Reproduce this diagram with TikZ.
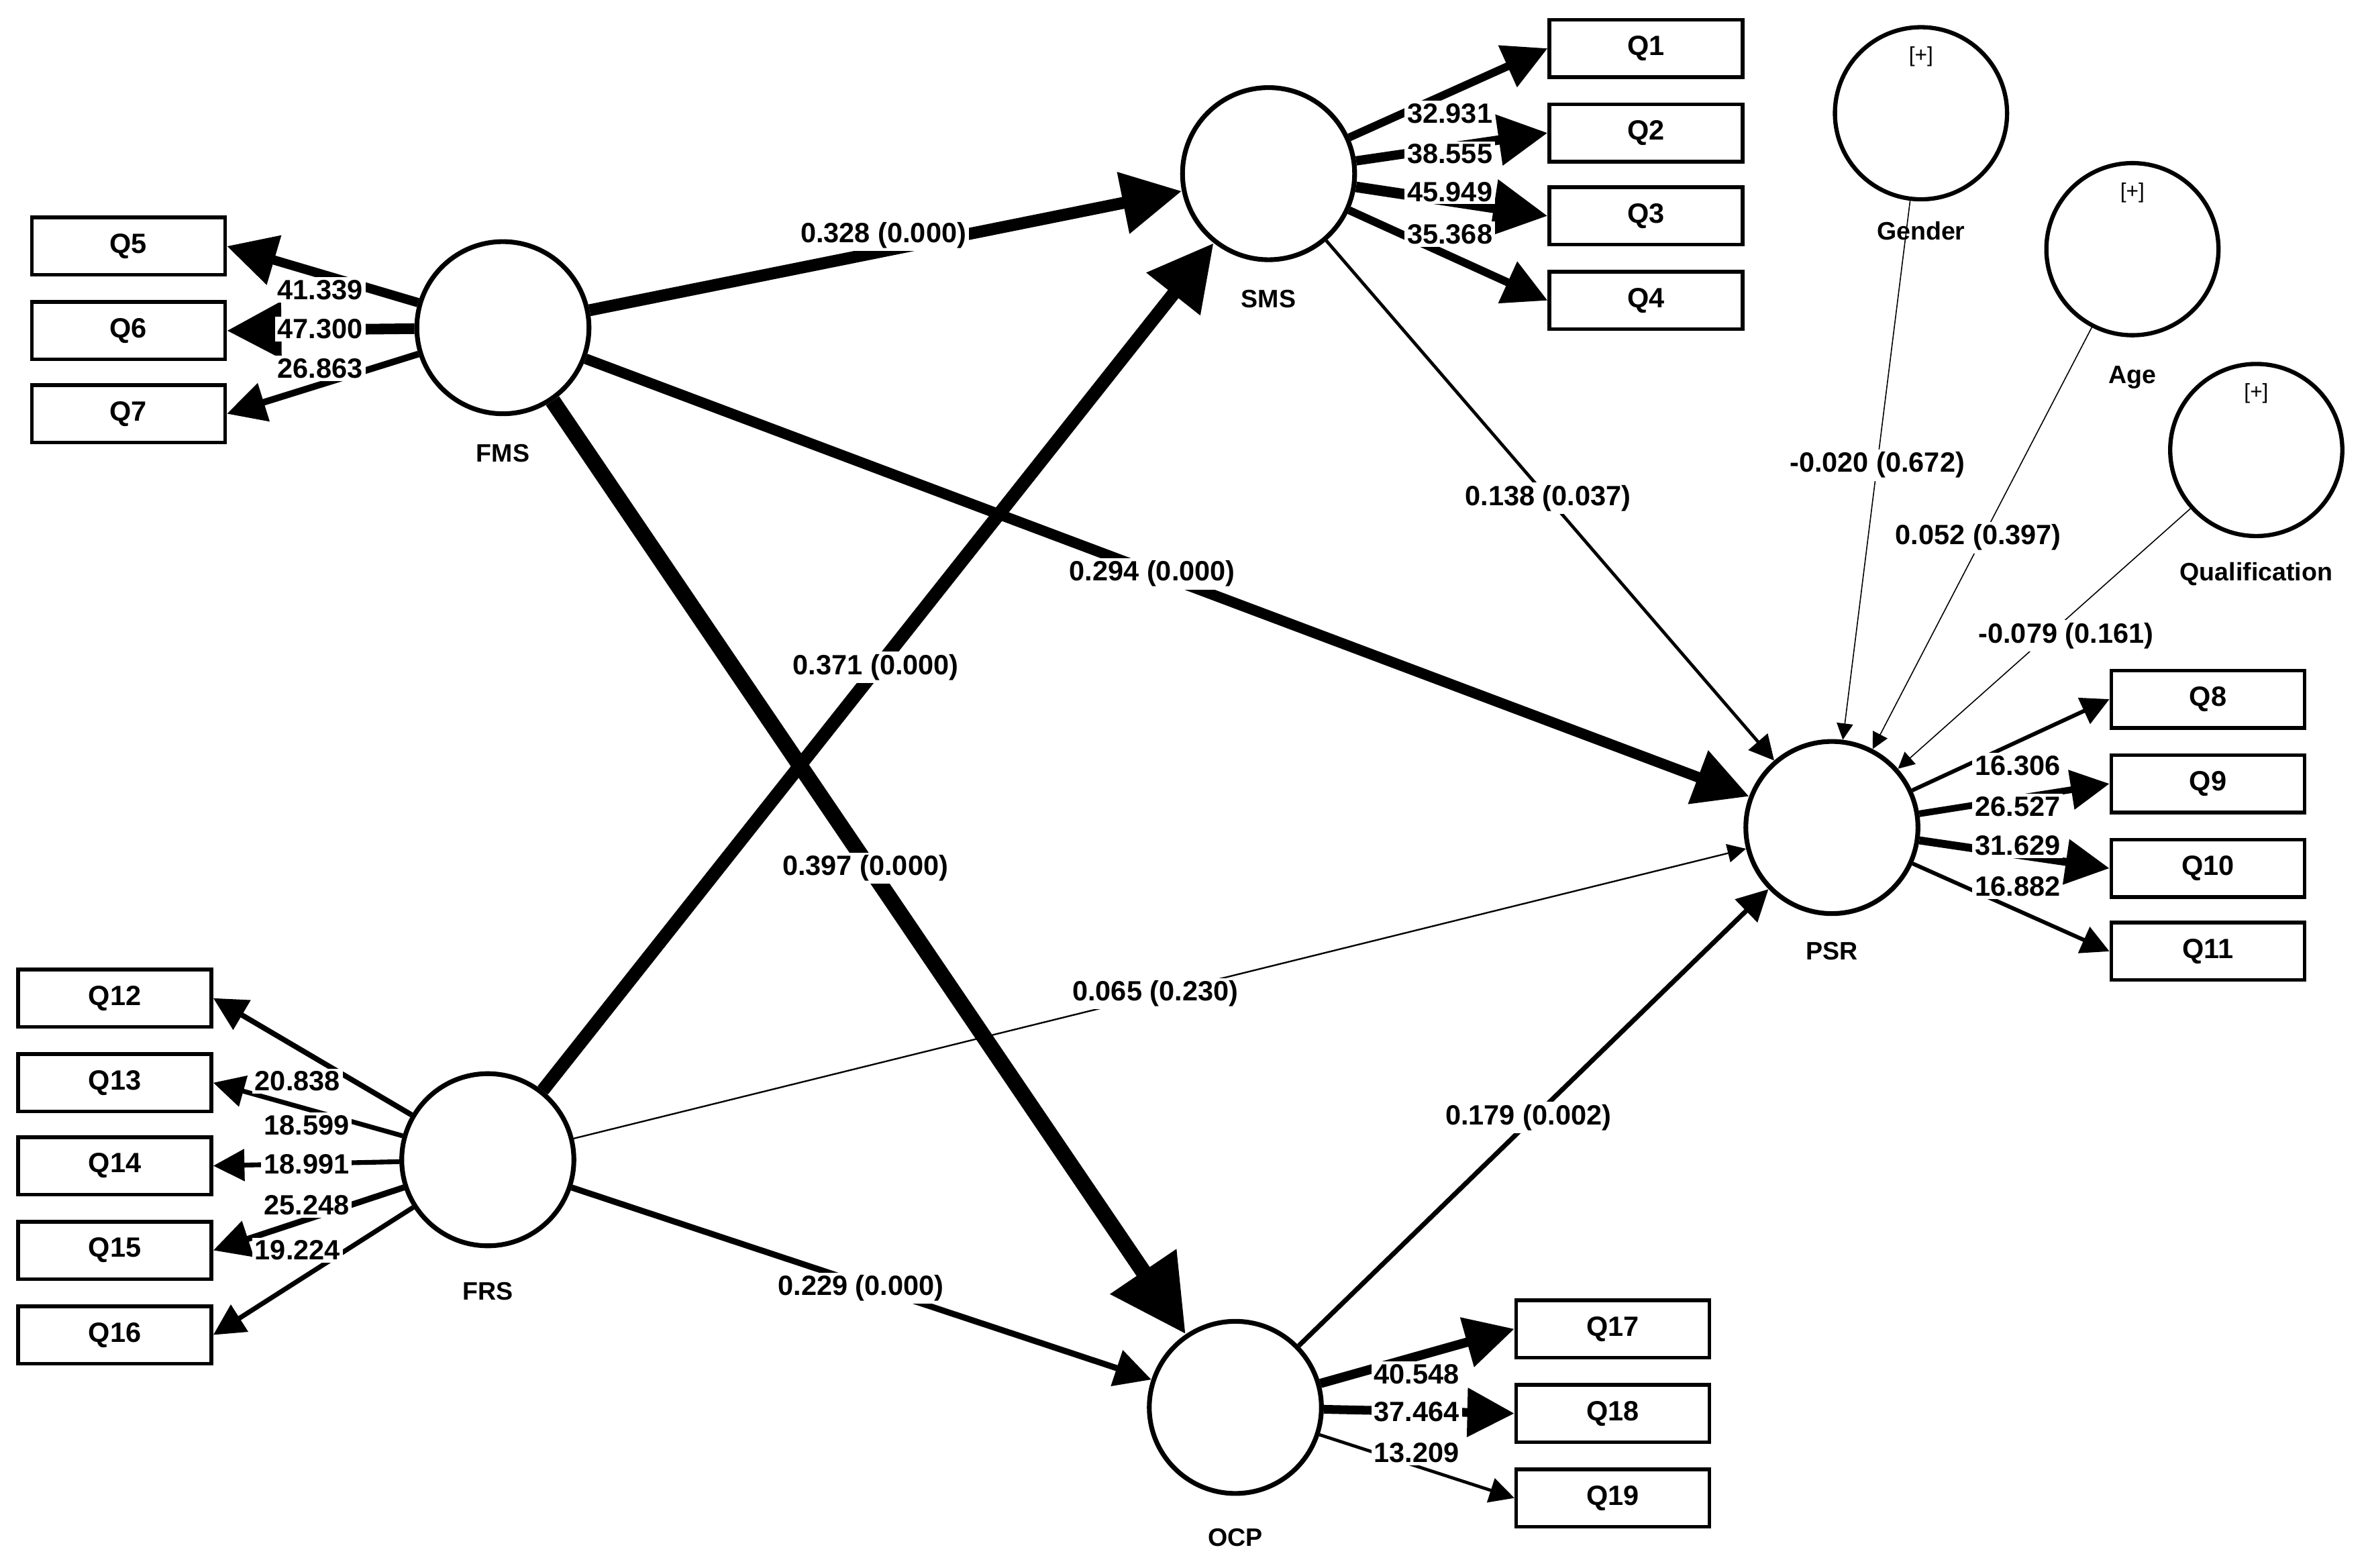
\documentclass[tikz,border=0pt]{standalone}
\usepackage{fontspec}
\setmainfont{Liberation Sans}
\usetikzlibrary{arrows.meta}
\begin{document}
\begin{tikzpicture}[x=0.02cm,y=-0.02cm,
  font=\fontsize{10.5}{12}\selectfont\bfseries,
  lv/.style={circle,draw,line width=1.8pt,minimum size=2.28cm,inner sep=0pt},
  ind/.style={draw,line width=1.4pt,minimum width=2.56cm,minimum height=0.76cm,inner sep=0pt},
  lab/.style={fill=white,inner sep=1pt},
  ar/.style={line width=#1,-{Triangle[length=1.6mm+4*#1,width=1.6mm+4*#1]}},
  lvl/.style={font=\fontsize{9.5}{11}\selectfont\bfseries}]
\useasboundingbox (0,0) rectangle (1568,1038);
% latent variables
\node[lv] (FMS) at (333,217) {};
\node[lv] (SMS) at (840,115) {};
\node[lv] (PSR) at (1213,548) {};
\node[lv] (FRS) at (323,768) {};
\node[lv] (OCP) at (818,932) {};
\node[lv,line width=1.6pt] (GEN) at (1272,75) {};
\node[lv,line width=1.6pt] (AGE) at (1412,165) {};
\node[lv,line width=1.6pt] (QUA) at (1494,298) {};
\node[lvl] at (333,300) {FMS};
\node[lvl] at (840,198) {SMS};
\node[lvl] at (1213,630) {PSR};
\node[lvl] at (323,855) {FRS};
\node[lvl] at (818,1018) {OCP};
\node[lvl] at (1272,153) {Gender};
\node[lvl] at (1412,250) {Age};
\node[lvl] at (1494,380) {Qualification};
\foreach \n in {GEN,AGE,QUA} \node[font=\fontsize{8}{9}\selectfont] at ([yshift=0.75cm]\n.center) {[+]};
% indicators
\foreach \q/\x/\y in {Q1/1090/32,Q2/1090/88,Q3/1090/143,Q4/1090/199,
  Q5/85/163,Q6/85/219,Q7/85/274,
  Q8/1462/463,Q9/1462/519,Q10/1462/575,Q11/1462/630,
  Q12/76/661,Q13/76/717,Q14/76/772,Q15/76/828,Q16/76/884,
  Q17/1068/880,Q18/1068/936,Q19/1068/992}
  \node[ind] (\q) at (\x,\y) {\q};
% outer loadings
\draw[ar=3pt] (SMS) -- (Q1.west);
\draw[ar=3.5pt] (SMS) -- (Q2.west);
\draw[ar=4pt] (SMS) -- (Q3.west);
\draw[ar=3pt] (SMS) -- (Q4.west);
\draw[ar=3.5pt] (FMS) -- (Q5.east);
\draw[ar=4pt] (FMS) -- (Q6.east);
\draw[ar=2.5pt] (FMS) -- (Q7.east);
\draw[ar=1.5pt] (PSR) -- (Q8.west);
\draw[ar=2.5pt] (PSR) -- (Q9.west);
\draw[ar=3pt] (PSR) -- (Q10.west);
\draw[ar=1.5pt] (PSR) -- (Q11.west);
\draw[ar=2pt] (FRS) -- (Q12.east);
\draw[ar=1.8pt] (FRS) -- (Q13.east);
\draw[ar=1.8pt] (FRS) -- (Q14.east);
\draw[ar=2.3pt] (FRS) -- (Q15.east);
\draw[ar=1.8pt] (FRS) -- (Q16.east);
\draw[ar=3.5pt] (OCP) -- (Q17.west);
\draw[ar=3.3pt] (OCP) -- (Q18.west);
\draw[ar=1.2pt] (OCP) -- (Q19.west);
\foreach \t/\x/\y in {41.339/212/192,47.300/212/218,26.863/212/244,
  32.931/960/75,38.555/960/102,45.949/960/127,35.368/960/155,
  16.306/1336/507,26.527/1336/534,31.629/1336/560,16.882/1336/587,
  20.838/197/716,18.599/203/745,18.991/203/771,25.248/203/798,19.224/197/828,
  40.548/938/910,37.464/938/935,13.209/938/962}
  \node[lab] at (\x,\y) {\t};
% structural paths
\draw[ar=4.5pt] (FMS) -- (SMS);
\draw[ar=4pt] (FMS) -- (PSR);
\draw[ar=6pt] (FMS) -- (OCP);
\draw[ar=5pt] (FRS) -- (SMS);
\draw[ar=0.6pt] (FRS) -- (PSR);
\draw[ar=2.3pt] (FRS) -- (OCP);
\draw[ar=1.2pt] (SMS) -- (PSR);
\draw[ar=1.8pt] (OCP) -- (PSR);
\draw[ar=0.4pt] (GEN) -- (PSR);
\draw[ar=0.4pt] (AGE) -- (PSR);
\draw[ar=0.4pt] (QUA) -- (PSR);
\node[lab] at (585,156) {0.328 (0.000)};
\node[lab] at (763,380) {0.294 (0.000)};
\node[lab] at (580,442) {0.371 (0.000)};
\node[lab] at (573,575) {0.397 (0.000)};
\node[lab] at (765,658) {0.065 (0.230)};
\node[lab] at (570,853) {0.229 (0.000)};
\node[lab] at (1025,330) {0.138 (0.037)};
\node[lab] at (1012,740) {0.179 (0.002)};
\node[lab] at (1243,308) {-0.020 (0.672)};
\node[lab] at (1310,356) {0.052 (0.397)};
\node[lab] at (1368,421) {-0.079 (0.161)};
\end{tikzpicture}
\end{document}
